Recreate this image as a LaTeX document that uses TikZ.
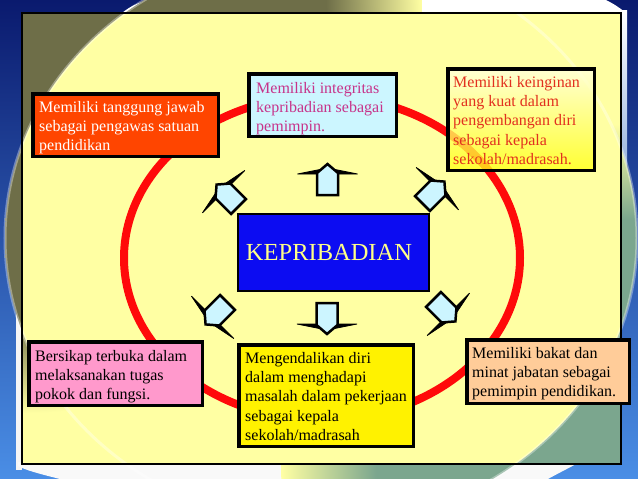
\documentclass[tikz,border=0pt]{standalone}
\usepackage{fontspec}
\setmainfont{Liberation Serif}
\definecolor{navy}{HTML}{0A1A6E}
\definecolor{skyb}{HTML}{4A8EE6}
\definecolor{panely}{HTML}{FFFFA3}
\definecolor{olivec}{HTML}{6E6E48}
\definecolor{greenc}{HTML}{7BA68E}
\definecolor{ringred}{HTML}{FF0A0A}
\definecolor{redbox}{HTML}{FF4500}
\definecolor{cyanbox}{HTML}{CCF6FF}
\definecolor{magtext}{HTML}{C7338A}
\definecolor{trtext}{HTML}{E2301E}
\definecolor{bluebox}{HTML}{0C0CF2}
\definecolor{paletext}{HTML}{FFFF88}
\definecolor{pinkbox}{HTML}{FF99CC}
\definecolor{peachbox}{HTML}{FFCC99}
\definecolor{arrowcyan}{HTML}{CCF5FF}
\pgfdeclareradialshading{olivecorner}{\pgfpoint{0bp}{0bp}}{color(0bp)=(olivec); color(19bp)=(olivec); color(25bp)=(panely); color(50bp)=(panely)}
\pgfdeclareradialshading{greencorner}{\pgfpoint{0bp}{0bp}}{color(0bp)=(greenc); color(18bp)=(greenc); color(25bp)=(panely); color(50bp)=(panely)}
\tikzset{
  boxnode/.style={draw=black, line width=3.5pt, rectangle, inner sep=0pt},
  txt/.style={anchor=north west, inner sep=0pt, align=left, font=\fontsize{16}{19.3}\selectfont},
  blockarrow/.pic={
     \filldraw[black, line width=0.8pt, line join=miter] (21,-30)--(27,0)--(21,30)--cycle;
     \draw[black, line width=2.5pt, fill=arrowcyan, line join=miter]
       (0,-10.5)--(22,-10.5)--(31,0)--(22,10.5)--(0,10.5)--cycle;}
}
\begin{document}
\begin{tikzpicture}[x=1pt,y=-1pt]
\useasboundingbox (0,0) rectangle (638,479);
% slide background
\shade[top color=navy, bottom color=skyb] (0,0) rectangle (638,479);
\fill[white] (122,13) .. controls (132,5) and (142,0) .. (158,0) -- (606,0) .. controls (614,4) and (620,8) .. (626,13) -- cycle;
\shade[top color=white, bottom color=skyb!70!navy] (619,10) rectangle (627,320);
\fill[white!92!gray] (16,300) -- (22,300) -- (22,470) -- (16,470) -- cycle;
\fill[white!95!gray] (18,462) -- (580,462) .. controls (565,470) and (555,475) .. (548,479) -- (60,479) .. controls (40,474) and (25,470) .. (18,466) -- cycle;
% panel
\fill[panely] (22,13) rectangle (621,464);
\begin{scope}[even odd rule]
  \clip (22,13) rectangle (621,464) (321,238) ellipse [x radius=316, y radius=287];
  \shade[shading=olivecorner] (22,13) circle (400);
  \shade[shading=greencorner] (621,464) circle (340);
\end{scope}
\draw[white, opacity=0.35, line width=3pt] (321,238) ellipse [x radius=316, y radius=287];
\draw[black, line width=1.2pt] (22,13) rectangle (621,464);
% ring
\draw[ringred, line width=8pt] (322,258) ellipse [x radius=198, y radius=162];
% boxes
\node[boxnode, fill=redbox, minimum width=185.5, minimum height=62.5] (b1) at (125.5,125) {};
\node[txt, text=white] (t1) at (39,101) {Memiliki tanggung jawab\\sebagai pengawas satuan\\pendidikan};
\node[boxnode, fill=cyanbox, minimum width=147.5, minimum height=62.5] (b2) at (322.5,105) {};
\node[txt, text=magtext] (t2) at (256,82) {Memiliki integritas\\kepribadian sebagai\\pemimpin.};
\node[boxnode, top color=yellow!12!white, bottom color=yellow!92!white, fill opacity=0.78, draw opacity=1, minimum width=146.5, minimum height=101.5] (b3) at (521,119.5) {};
\node[txt, text=trtext] (t3) at (453,76) {Memiliki keinginan\\yang kuat dalam\\pengembangan diri\\sebagai kepala\\sekolah/madrasah.};
\node[boxnode, line width=2pt, fill=bluebox, minimum width=191, minimum height=77, text=paletext, font=\fontsize{24.5}{28}\selectfont] (kep) at (333.5,252.5) {\hspace*{-9pt}KEPRIBADIAN};
\node[boxnode, fill=pinkbox, minimum width=173.5, minimum height=63.5] (b5) at (115.5,373.5) {};
\node[txt, text=black] (t5) at (35,350) {Bersikap terbuka dalam\\melaksanakan tugas\\pokok dan fungsi.};
\node[boxnode, fill=yellow, minimum width=174.5, minimum height=101.5] (b6) at (326,395.5) {};
\node[txt, text=black] (t6) at (245,352) {Mengendalikan diri\\dalam menghadapi\\masalah dalam pekerjaan\\sebagai kepala\\sekolah/madrasah};
\node[boxnode, fill=peachbox, minimum width=162.5, minimum height=63.5] (b7) at (548,371.5) {};
\node[txt, text=black] (t7) at (472,347) {Memiliki bakat dan\\minat jabatan sebagai\\pemimpin pendidikan.};
% block arrows
\pic[rotate=90] at (327.5,195) {blockarrow};
\pic[rotate=270] at (327,303) {blockarrow};
\pic[rotate=135] at (238.5,206.5) {blockarrow};
\pic[rotate=45] at (422.5,203.5) {blockarrow};
\pic[rotate=225] at (227.5,302.5) {blockarrow};
\pic[rotate=315] at (433.5,299.5) {blockarrow};
\end{tikzpicture}
\end{document}
